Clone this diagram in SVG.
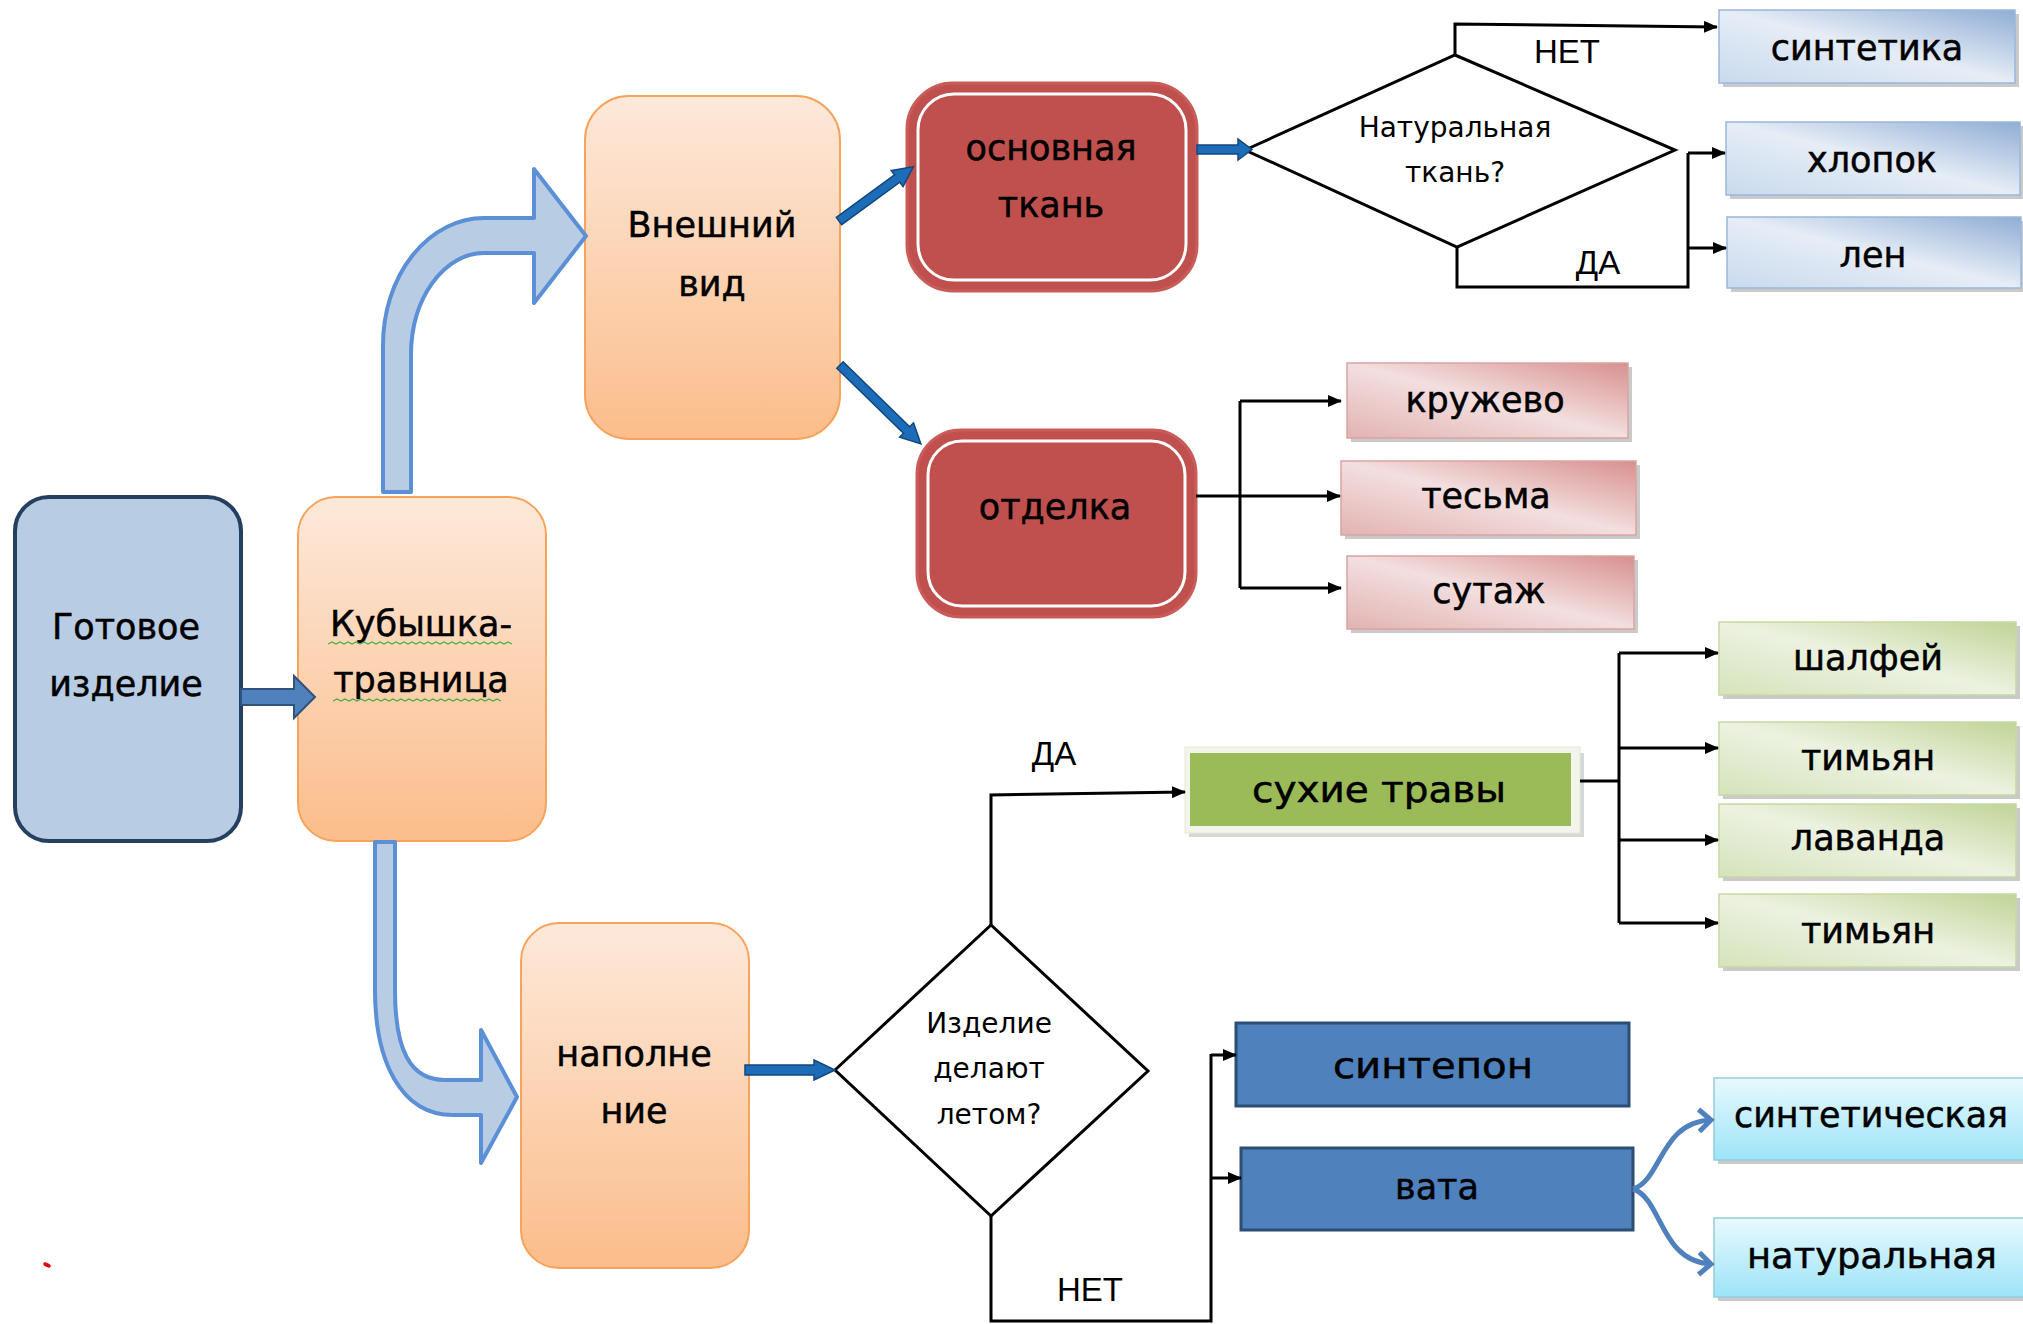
<svg xmlns="http://www.w3.org/2000/svg" width="2023" height="1324" viewBox="0 0 2023 1324">
<defs>
<style>
.t{font-family:"DejaVu Sans","Liberation Sans",sans-serif;font-size:35px;fill:#000;stroke:#000;stroke-width:0.5;text-anchor:middle}
.q{font-family:"DejaVu Sans","Liberation Sans",sans-serif;font-size:28px;fill:#000;text-anchor:middle}
.l{font-family:"Liberation Sans","DejaVu Sans",sans-serif;font-size:33px;fill:#000;text-anchor:middle}
.ln{fill:none;stroke:#000;stroke-width:3}
.la{fill:none;stroke:#000;stroke-width:3;marker-end:url(#ah)}
.or{fill:url(#gOr);stroke:#f7a35c;stroke-width:2}
.red{fill:#c0504d;stroke:#c95c59;stroke-width:3}
.redin{fill:none;stroke:#fff;stroke-width:3}
.sh{fill:#a6a6a6;opacity:0.6}
.bl{fill:url(#gBl);stroke:#9ab7da;stroke-width:1.5}
.pk{fill:url(#gPk);stroke:#dba3a2;stroke-width:1.5}
.gr{fill:url(#gGr);stroke:#c6d9a2;stroke-width:1.5}
.cy{fill:url(#gCy);stroke:#93cddd;stroke-width:1.5}
.db{fill:#4f81bd;stroke:#2c4d75;stroke-width:3}
.ba{fill:#1c6cb8;stroke:#12477c;stroke-width:1.5}
.dia{fill:#fff;stroke:#000;stroke-width:3}
.fat{fill:#b8cce4;stroke:#5b8fd6;stroke-width:4;stroke-linejoin:round}
.sq{fill:none;stroke:#4caf3c;stroke-width:1.3}
</style>
<linearGradient id="gOr" x1="0" y1="0" x2="0" y2="1">
<stop offset="0" stop-color="#fde9da"/><stop offset="1" stop-color="#fbbd8b"/>
</linearGradient>
<linearGradient id="gBl" x1="0" y1="1" x2="1" y2="0">
<stop offset="0" stop-color="#c9daee"/><stop offset="0.5" stop-color="#e6edf6"/><stop offset="1" stop-color="#8fadd4"/>
</linearGradient>
<linearGradient id="gPk" x1="0" y1="1" x2="1" y2="0">
<stop offset="0" stop-color="#e2b3b2"/><stop offset="0.5" stop-color="#f3dfdf"/><stop offset="1" stop-color="#d7908e"/>
</linearGradient>
<linearGradient id="gGr" x1="0" y1="1" x2="1" y2="0">
<stop offset="0" stop-color="#d5e3bb"/><stop offset="0.5" stop-color="#ecf2e0"/><stop offset="1" stop-color="#c0d497"/>
</linearGradient>
<linearGradient id="gCy" x1="0" y1="0" x2="0" y2="1">
<stop offset="0" stop-color="#e8f9fe"/><stop offset="1" stop-color="#9de4f8"/>
</linearGradient>
<marker id="ah" markerWidth="14" markerHeight="12" refX="13" refY="6" orient="auto" markerUnits="userSpaceOnUse">
<path d="M0,0 L14,6 L0,12 Z" fill="#000"/>
</marker>
<marker id="ao" markerWidth="20" markerHeight="26" refX="15" refY="13" orient="auto" markerUnits="userSpaceOnUse">
<path d="M3,2 L15,13 L3,24" fill="none" stroke="#4f81bd" stroke-width="5" stroke-linejoin="miter"/>
</marker>
</defs>
<rect width="2023" height="1324" fill="#fff"/>

<g id="n-gotovoe">
<rect x="15" y="497" width="226" height="344" rx="34" fill="#b8cce4" stroke="#243f60" stroke-width="4"/>
<text class="t" x="126" y="639" font-size="36">Готовое</text>
<text class="t" x="126" y="696" font-size="36">изделие</text>
</g>

<g id="n-kubyshka">
<rect class="or" x="298" y="497" width="248" height="344" rx="38"/>
<text class="t" x="421" y="636" font-size="36">Кубышка-</text>
<text class="t" x="421" y="692" font-size="36">травница</text>
<path class="sq" d="M328,644 l4,-2 l4,2 l4,-2 l4,2 l4,-2 l4,2 l4,-2 l4,2 l4,-2 l4,2 l4,-2 l4,2 l4,-2 l4,2 l4,-2 l4,2 l4,-2 l4,2 l4,-2 l4,2 l4,-2 l4,2 l4,-2 l4,2 l4,-2 l4,2 l4,-2 l4,2 l4,-2 l4,2 l4,-2 l4,2 l4,-2 l4,2 l4,-2 l4,2 l4,-2 l4,2 l4,-2 l4,2 l4,-2 l4,2 l4,-2 l4,2 l4,-2 l4,2"/>
<path class="sq" d="M333,701 l4,-2 l4,2 l4,-2 l4,2 l4,-2 l4,2 l4,-2 l4,2 l4,-2 l4,2 l4,-2 l4,2 l4,-2 l4,2 l4,-2 l4,2 l4,-2 l4,2 l4,-2 l4,2 l4,-2 l4,2 l4,-2 l4,2 l4,-2 l4,2 l4,-2 l4,2 l4,-2 l4,2 l4,-2 l4,2 l4,-2 l4,2 l4,-2 l4,2 l4,-2 l4,2 l4,-2 l4,2 l4,-2 l4,2"/>
</g>

<g id="n-vneshniy">
<rect class="or" x="585" y="96" width="255" height="343" rx="44"/>
<text class="t" x="712" y="237">Внешний</text>
<text class="t" x="712" y="296">вид</text>
</g>

<g id="n-osnovnaya">
<rect class="red" x="907" y="83" width="290" height="208" rx="46"/>
<rect class="redin" x="918" y="94" width="268" height="186" rx="36"/>
<text class="t" x="1051" y="160" font-size="36">основная</text>
<text class="t" x="1051" y="217" font-size="36">ткань</text>
</g>

<g id="n-otdelka">
<rect class="red" x="917" y="430" width="279" height="187" rx="44"/>
<rect class="redin" x="928" y="441" width="257" height="165" rx="34"/>
<text class="t" x="1055" y="519">отделка</text>
</g>

<g id="n-diamond1">
<polygon class="dia" points="1245,150 1455,55 1675,150 1457,247"/>
<text class="q" x="1455" y="137">Натуральная</text>
<text class="q" x="1455" y="182">ткань?</text>
</g>
<g id="lbl-top">
<text class="l" x="1567" y="63">НЕТ</text>
<text class="l" x="1598" y="274">ДА</text>
</g>

<g id="n-sintetika">
<rect class="sh" x="1723" y="14" width="296" height="73"/>
<rect class="bl" x="1719" y="10" width="296" height="73"/>
<text class="t" x="1867" y="60">синтетика</text>
</g>
<g id="n-hlopok">
<rect class="sh" x="1730" y="126" width="294" height="73"/>
<rect class="bl" x="1726" y="122" width="294" height="73"/>
<text class="t" x="1872" y="172">хлопок</text>
</g>
<g id="n-len">
<rect class="sh" x="1731" y="221" width="294" height="71"/>
<rect class="bl" x="1727" y="217" width="294" height="71"/>
<text class="t" x="1873" y="267">лен</text>
</g>

<g id="n-kruzhevo">
<rect class="sh" x="1351" y="367" width="281" height="75"/>
<rect class="pk" x="1347" y="363" width="281" height="75"/>
<text class="t" x="1485" y="412">кружево</text>
</g>
<g id="n-tesma">
<rect class="sh" x="1345" y="465" width="295" height="74"/>
<rect class="pk" x="1341" y="461" width="295" height="74"/>
<text class="t" x="1486" y="508">тесьма</text>
</g>
<g id="n-sutazh">
<rect class="sh" x="1351" y="560" width="287" height="73"/>
<rect class="pk" x="1347" y="556" width="287" height="73"/>
<text class="t" x="1489" y="603">сутаж</text>
</g>

<g id="n-suhie">
<rect x="1189" y="753" width="395" height="84" fill="#b0b0b0" opacity="0.5"/>
<rect x="1185" y="747" width="395" height="86" fill="#f2f5ec" stroke="#e3e9d6" stroke-width="1"/>
<rect x="1190" y="753" width="381" height="73" fill="#9bbb59"/>
<text class="t" x="1379" y="802" font-size="41" textLength="254" lengthAdjust="spacingAndGlyphs">сухие травы</text>
</g>
<g id="n-shalfey">
<rect class="sh" x="1723" y="626" width="297" height="73"/>
<rect class="gr" x="1719" y="622" width="297" height="73"/>
<text class="t" x="1868" y="670">шалфей</text>
</g>
<g id="n-timyan1">
<rect class="sh" x="1723" y="726" width="297" height="73"/>
<rect class="gr" x="1719" y="722" width="297" height="73"/>
<text class="t" x="1868" y="770">тимьян</text>
</g>
<g id="n-lavanda">
<rect class="sh" x="1723" y="808" width="297" height="73"/>
<rect class="gr" x="1719" y="804" width="297" height="73"/>
<text class="t" x="1868" y="850">лаванда</text>
</g>
<g id="n-timyan2">
<rect class="sh" x="1723" y="898" width="297" height="73"/>
<rect class="gr" x="1719" y="894" width="297" height="73"/>
<text class="t" x="1868" y="943">тимьян</text>
</g>

<g id="n-napolnenie">
<rect class="or" x="521" y="923" width="228" height="345" rx="38"/>
<text class="t" x="634" y="1066">наполне</text>
<text class="t" x="634" y="1123">ние</text>
</g>

<g id="n-diamond2">
<polygon class="dia" points="835,1070 991,925 1148,1071 991,1216"/>
<text class="q" x="989" y="1033">Изделие</text>
<text class="q" x="989" y="1078">делают</text>
<text class="q" x="989" y="1124">летом?</text>
</g>
<g id="lbl-bottom">
<text class="l" x="1054" y="765">ДА</text>
<text class="l" x="1090" y="1301">НЕТ</text>
</g>

<g id="n-sintepon">
<rect class="db" x="1236" y="1023" width="393" height="83"/>
<text class="t" x="1433" y="1078" font-size="39" textLength="200" lengthAdjust="spacingAndGlyphs">синтепон</text>
</g>
<g id="n-vata">
<rect class="db" x="1241" y="1148" width="392" height="82"/>
<text class="t" x="1437" y="1199" font-size="37">вата</text>
</g>
<g id="n-sinteticheskaya">
<rect class="sh" x="1718" y="1082" width="310" height="82"/>
<rect class="cy" x="1714" y="1078" width="312" height="82"/>
<text class="t" x="1871" y="1127" textLength="274" lengthAdjust="spacingAndGlyphs">синтетическая</text>
</g>
<g id="n-naturalnaya">
<rect class="sh" x="1718" y="1222" width="310" height="79"/>
<rect class="cy" x="1714" y="1218" width="312" height="79"/>
<text class="t" x="1872" y="1268" font-size="37" textLength="250" lengthAdjust="spacingAndGlyphs">натуральная</text>
</g>

<g id="connectors">
<path class="fat" d="M383,492 L383,345 A101,127 0 0 1 484,218 L534,218 L534,169 L586,236 L534,303 L534,253 L484,253 A73,102 0 0 0 411,355 L411,492 Z"/>
<path class="fat" d="M375,842 L395,842 L395,990 C395,1050 410,1080 445,1080 L481,1080 L481,1030 L517,1097 L481,1163 L481,1115 L453,1115 C400,1115 375,1060 375,990 Z"/>
<path d="M241,689 L294,689 L294,676 L315,697 L294,718 L294,705 L241,705 Z" fill="#4f81bd" stroke="#30527c" stroke-width="2"/>
<g transform="translate(839,221) rotate(-36.1)"><path class="ba" d="M0,-4.5 L72,-4.5 L72,-10 L92,0 L72,10 L72,4.5 L0,4.5 Z"/></g>
<g transform="translate(840,365) rotate(44.3)"><path class="ba" d="M0,-4.5 L93,-4.5 L93,-10 L113,0 L93,10 L93,4.5 L0,4.5 Z"/></g>
<path class="ba" d="M1197,145 L1238,145 L1238,139 L1252,149.5 L1238,160 L1238,154 L1197,154 Z"/>
<path class="ba" d="M745,1065 L814,1065 L814,1060 L835,1070 L814,1080 L814,1075 L745,1075 Z"/>
<path class="la" d="M1455,55 L1455,24 L1717,27"/>
<path class="ln" d="M1457,247 L1457,287 L1688,287 L1688,153"/>
<path class="la" d="M1688,153 L1725,153"/>
<path class="la" d="M1688,248 L1726,248"/>
<path class="ln" d="M1196,496 L1240,496 M1240,401 L1240,588"/>
<path class="la" d="M1240,401 L1341,401"/>
<path class="la" d="M1240,496 L1340,496"/>
<path class="la" d="M1240,588 L1341,588"/>
<path class="ln" d="M1580,781 L1619,781 M1619,653 L1619,923"/>
<path class="la" d="M1619,653 L1718,653"/>
<path class="la" d="M1619,748 L1718,748"/>
<path class="la" d="M1619,840 L1718,840"/>
<path class="la" d="M1619,923 L1718,923"/>
<path class="la" d="M991,925 L991,795 L1185,792"/>
<path class="ln" d="M991,1216 L991,1321 L1211,1321 L1211,1054"/>
<path class="la" d="M1211,1055 L1236,1055"/>
<path class="la" d="M1211,1178 L1241,1178"/>
<path d="M1633,1189 C1662,1180 1660,1122 1711,1120" fill="none" stroke="#4f81bd" stroke-width="5" marker-end="url(#ao)"/>
<path d="M1633,1189 C1662,1198 1660,1262 1711,1264" fill="none" stroke="#4f81bd" stroke-width="5" marker-end="url(#ao)"/>
</g>

<ellipse cx="47" cy="1265" rx="4" ry="2" fill="#e00000" transform="rotate(25 47 1265)"/>
</svg>
